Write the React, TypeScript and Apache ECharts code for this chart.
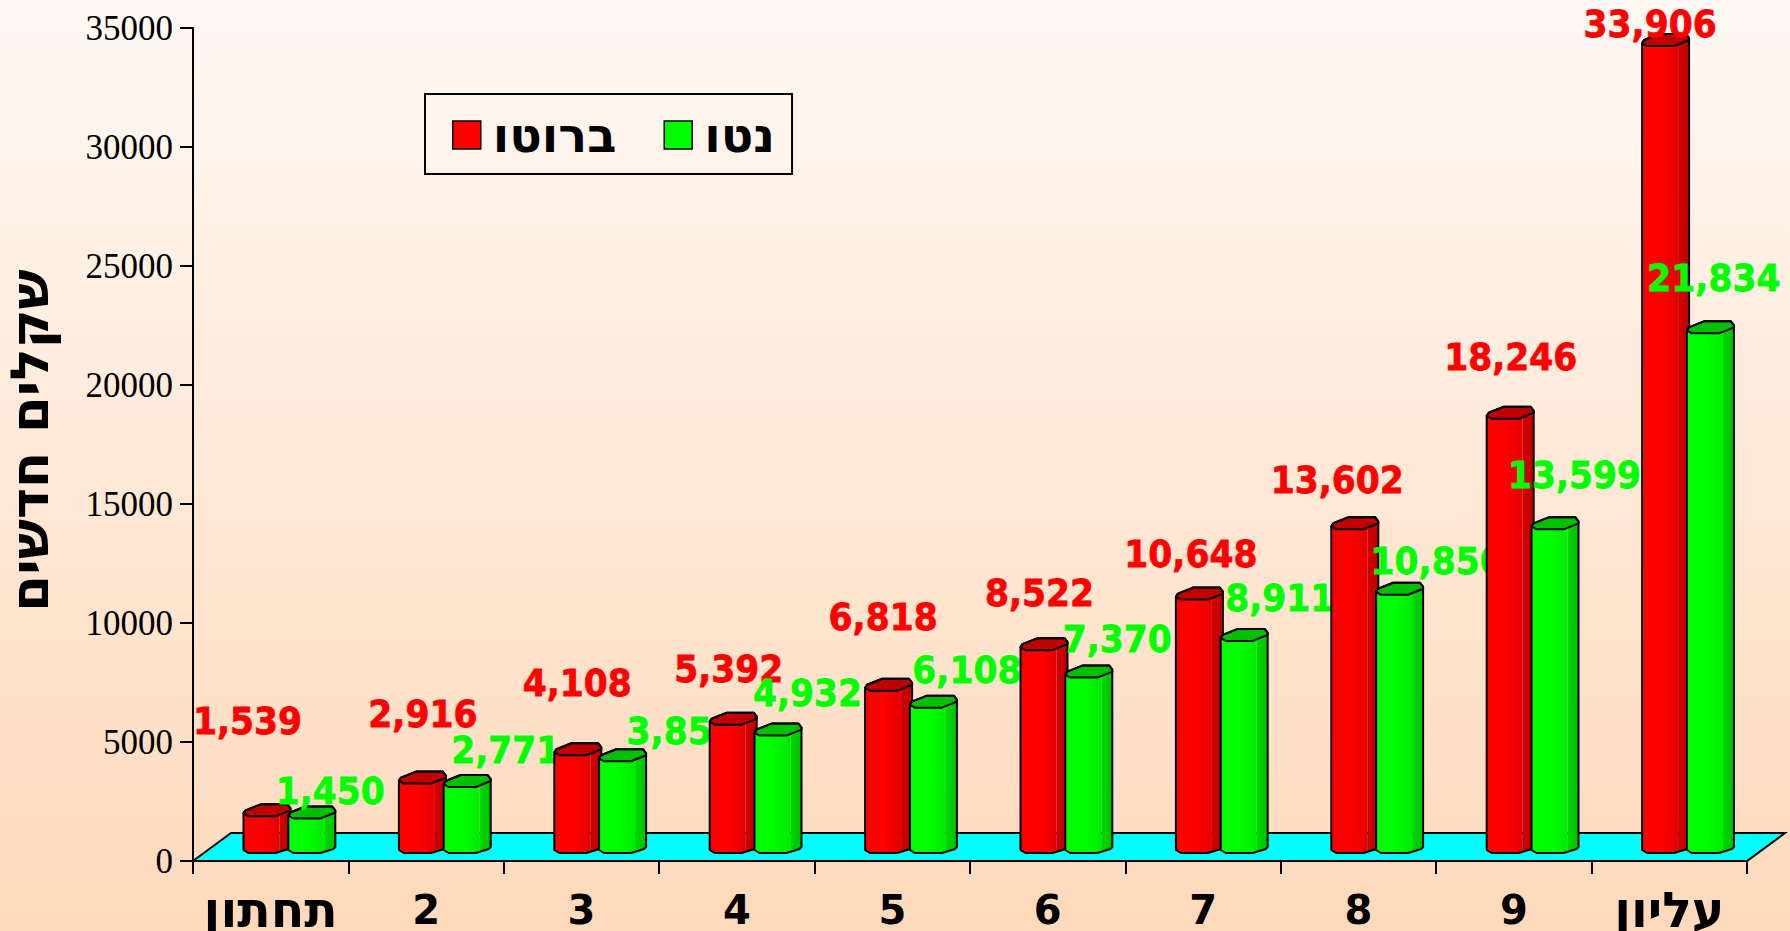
import React, { useEffect, useRef } from "react";
import * as echarts from "echarts";

const categories = ["תחתון", "2", "3", "4", "5", "6", "7", "8", "9", "עליון"];
const grossName = "ברוטו";
const netName = "נטו";
const grossValues = [1539, 2916, 4108, 5392, 6818, 8522, 10648, 13602, 18246, 33906];
const netValues = [1450, 2771, 3854, 4932, 6108, 7370, 8911, 10850, 13599, 21834];
const yAxisTitle = "שקלים חדשים";

// Hand placement of the value labels relative to the top of each bar (px)
const grossLabelDx = [-19, 1, 0, -4, -5, -4, -8, -17, 1, -15];
const grossLabelDy = [-95, -70, -72, -56, -74, -57, -46, -49, -62, -22];
const netLabelDx = [19, 39, 59, 30, 34, 29, 36, 38, 20, 4];
const netLabelDy = [-28, -37, -30, -43, -38, -39, -43, -34, -54, -55];

const BAR_W = 47;
const FRONT_W = 36;
const BASE_LIFT = 8;
const LABEL_FONT = 'bold 34.5px "DejaVu Sans"';

const fmt = (v: number) => v.toLocaleString("en-US");

function prism(
  left: number,
  top: number,
  bottom: number,
  colors: { light: string; mid: string; side: string; sideDark: string; cap: string },
  z2: number
) {
  const r = left + BAR_W;
  const f = left + FRONT_W;
  const stroke = { stroke: "#000", lineWidth: 2, lineJoin: "round" };
  const outline = [
    [left, top - 3],
    [left, bottom - 3],
    [left + 5, bottom],
    [left + 32, bottom],
    [r - 2, bottom - 4],
    [r, bottom - 6],
    [r, top - 8],
    [r - 3, top - 12],
    [left + 17, top - 12],
    [left + 2, top - 6],
  ];
  return [
    {
      type: "polygon",
      z2,
      shape: {
        points: [
          [left, top - 3],
          [left + 5, top],
          [left + 32, top],
          [f, top - 1.5],
          [f, bottom - 1.5],
          [left + 32, bottom],
          [left + 5, bottom],
          [left, bottom - 3],
        ],
      },
      style: {
        fill: new echarts.graphic.LinearGradient(0, 0, 1, 0, [
          { offset: 0, color: colors.light },
          { offset: 0.5, color: colors.light },
          { offset: 1, color: colors.mid },
        ]),
      },
    },
    {
      type: "polygon",
      z2,
      shape: {
        points: [
          [f, top - 1.5],
          [r, top - 6],
          [r, bottom - 6],
          [r - 2, bottom - 4],
          [f, bottom - 1.5],
        ],
      },
      style: {
        fill: new echarts.graphic.LinearGradient(0, 0, 1, 0, [
          { offset: 0, color: colors.side },
          { offset: 1, color: colors.sideDark },
        ]),
      },
    },
    {
      type: "polygon",
      z2,
      shape: {
        points: [
          [left, top - 3],
          [left + 5, top],
          [left + 32, top],
          [r, top - 6],
          [r, top - 8],
          [r - 3, top - 12],
          [left + 17, top - 12],
          [left + 2, top - 6],
        ],
      },
      style: { fill: colors.cap, ...stroke },
    },
    {
      type: "polygon",
      z2,
      shape: { points: outline },
      style: { fill: "none", ...stroke },
    },
  ];
}

function barSeries(
  name: string,
  values: number[],
  color: string,
  barOffset: number,
  labelDx: number[],
  labelDy: number[],
  colors: { light: string; mid: string; side: string; sideDark: string; cap: string },
  zStep: number
) {
  return {
    type: "custom",
    name,
    silent: true,
    itemStyle: { color },
    data: values.map((v, i) => [i, v]),
    encode: { x: 0, y: 1 },
    renderItem: (_params: any, api: any) => {
      const i = api.value(0);
      const v = api.value(1);
      const [cx, top0] = api.coord([i, v]);
      const [, base0] = api.coord([i, 0]);
      const left = cx + barOffset;
      const top = top0 - BASE_LIFT;
      const bottom = base0 - BASE_LIFT;
      const z = i * 10 + zStep;
      return {
        type: "group",
        children: [
          ...prism(left, top, bottom, colors, z),
          {
            type: "text",
            z2: z + 2,
            x: left + 23 + labelDx[i],
            y: top + labelDy[i],
            scaleY: 1.1,
            style: {
              text: fmt(v),
              fill: color,
              stroke: color,
              lineWidth: 0.7,
              font: LABEL_FONT,
              textAlign: "center",
              textVerticalAlign: "middle",
            },
          },
        ],
      };
    },
  };
}

const floorSeries = {
  type: "custom",
  name: "floor",
  silent: true,
  data: [[0, 0]],
  encode: { x: 0, y: 1 },
  renderItem: (params: any) => {
    const { x, y, width, height } = params.coordSys;
    const b = y + height;
    return {
      type: "polygon",
      z2: -1,
      shape: {
        points: [
          [x, b],
          [x + 38, b - 28],
          [x + width + 38, b - 28],
          [x + width, b],
        ],
      },
      style: { fill: "#00ffff", stroke: "#000", lineWidth: 2 },
    };
  },
};

export default function App() {
  const ref = useRef<HTMLDivElement>(null);
  useEffect(() => {
    const chart = echarts.init(ref.current!, undefined, { renderer: "svg" });
    chart.setOption({
      animation: false,
      backgroundColor: new echarts.graphic.LinearGradient(0, 0, 0, 1, [
        { offset: 0, color: "#fff9f4" },
        { offset: 1, color: "#fed9bb" },
      ]),
      grid: { left: 193, right: 43, top: 28, bottom: 70, outerBoundsMode: "none" },
      legend: {
        data: [grossName, netName],
        left: 425,
        top: 94,
        orient: "horizontal",
        padding: [17, 17, 15, 27],
        itemWidth: 28,
        itemHeight: 28,
        itemGap: 47,
        borderColor: "#000",
        borderWidth: 2,
        icon: "rect",
        itemStyle: { borderColor: "#000", borderWidth: 1.5 },
        textStyle: {
          fontFamily: "DejaVu Sans",
          fontWeight: "bold",
          fontSize: 48,
          lineHeight: 30,
          color: "#000",
          padding: [0, 0, 0, 7],
        },
      },
      xAxis: {
        type: "category",
        data: categories,
        axisLine: { lineStyle: { color: "#000", width: 2 } },
        axisTick: { show: true, alignWithLabel: false, length: 13, lineStyle: { color: "#000", width: 2 } },
        axisLabel: {
          color: "#000",
          margin: 29,
          interval: 0,
          formatter: (value: string) => (/\d/.test(value) ? `{num|${value}}` : `{he|${value}}`),
          rich: {
            he: { fontFamily: "DejaVu Sans", fontWeight: "bold", fontSize: 49, lineHeight: 40, color: "#000" },
            num: { fontFamily: "DejaVu Sans", fontWeight: "bold", fontSize: 40, lineHeight: 40, color: "#000" },
          },
        },
        splitLine: { show: false },
      },
      yAxis: {
        type: "value",
        min: 0,
        max: 35000,
        interval: 5000,
        name: yAxisTitle,
        nameLocation: "middle",
        nameGap: 137,
        nameRotate: 90,
        nameTextStyle: {
          color: "#000",
          fontFamily: "DejaVu Sans",
          fontWeight: "bold",
          fontSize: 53,
          padding: [0, 0, 0, 8],
        },
        axisLine: { show: true, lineStyle: { color: "#000", width: 2 } },
        axisTick: { show: true, length: 13, lineStyle: { color: "#000", width: 2 } },
        axisLabel: {
          color: "#000",
          fontFamily: "Liberation Serif",
          fontSize: 35,
          margin: 20,
          formatter: (v: number) => String(v),
        },
        splitLine: { show: false },
      },
      series: [
        floorSeries,
        barSeries(grossName, grossValues, "#ff0000", -27.2, grossLabelDx, grossLabelDy,
          { light: "#ff0000", mid: "#e40000", side: "#d00000", sideDark: "#c00000", cap: "#c00000" }, 0),
        barSeries(netName, netValues, "#00ff00", 17.6, netLabelDx, netLabelDy,
          { light: "#00ff00", mid: "#00ea00", side: "#00d800", sideDark: "#00c000", cap: "#00c000" }, 1),
      ],
    });
    return () => chart.dispose();
  }, []);
  return (
    <div
      ref={ref}
      style={{ position: "fixed", left: 0, top: 0, width: 1790, height: 931 }}
    />
  );
}
